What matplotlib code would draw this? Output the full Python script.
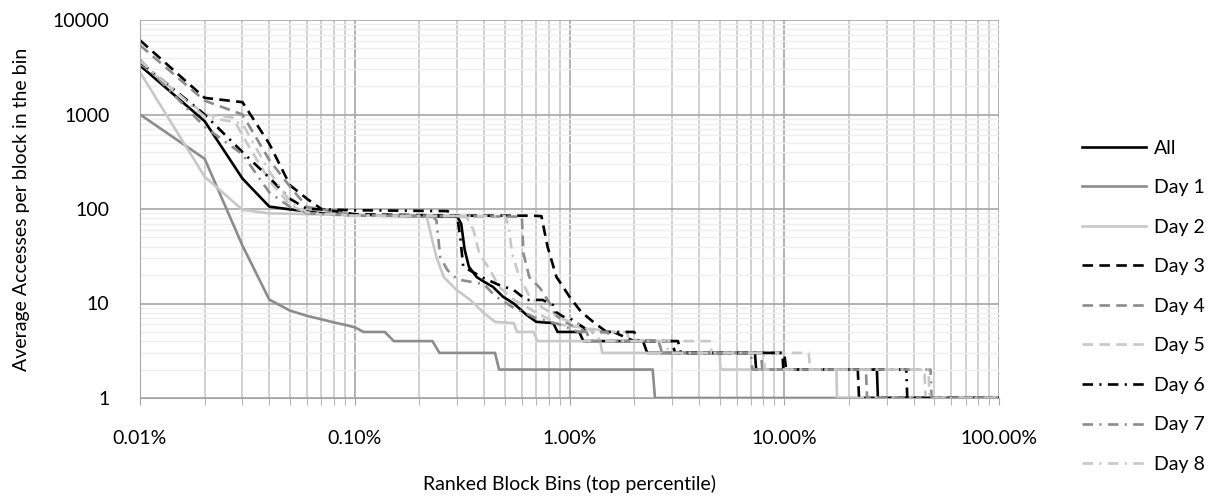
import matplotlib
matplotlib.use("Agg")
import matplotlib.pyplot as plt
import matplotlib.ticker as mticker
import numpy as np

plt.rcParams['font.family'] = ['Lato', 'DejaVu Sans']

# x values are in percent (top percentile of ranked block bins)
all_x = [0.01, 0.02, 0.03, 0.04, 0.05, 0.07, 0.1, 0.2, 0.3, 0.313, 0.325, 0.34, 0.37, 0.40, 0.44, 0.49, 0.55,
         0.63, 0.70, 0.84, 0.88, 1.11, 1.16, 2.2, 2.3, 7.3, 7.4, 27, 27.3, 100]
all_y = [3300, 850, 210, 106, 99, 90, 86, 84, 83, 70, 37, 24.5, 19, 17, 15, 11.8, 10,
         7.6, 6.4, 6.2, 5, 5, 4, 4, 3, 3, 2, 2, 1, 1]

day1_x = [0.01, 0.02, 0.03, 0.04, 0.05, 0.06, 0.07, 0.08, 0.09, 0.10, 0.11, 0.138, 0.152, 0.23, 0.248,
          0.45, 0.47, 2.44, 2.5, 100]
day1_y = [1000, 340, 41, 11, 8.4, 7.4, 6.8, 6.3, 5.95, 5.6, 5, 5, 4, 4, 3, 3, 2, 2, 1, 1]

day2_x = [0.01, 0.02, 0.03, 0.04, 0.1, 0.216, 0.228, 0.24, 0.26, 0.297, 0.345, 0.40, 0.45, 0.55, 0.57,
          0.68, 0.71, 1.39, 1.42, 5.0, 5.05, 17.5, 17.6, 100]
day2_y = [2800, 220, 98, 90, 86, 84, 50, 31, 19, 14, 10.9, 7.9, 6.4, 6.2, 5, 5, 4, 4, 3, 3, 2, 2, 1, 1]

day3_x = [0.01, 0.02, 0.03, 0.04, 0.05, 0.06, 0.07, 0.1, 0.3, 0.67, 0.74, 0.79, 0.87, 0.9, 1.0, 1.13,
          1.31, 1.49, 1.6, 2.0, 3.0, 3.1, 10, 10.2, 22, 22.3, 100]
day3_y = [6100, 1500, 1350, 490, 178, 128, 100, 88, 85, 85, 84, 40, 19, 17, 11.8, 8.2,
          6.2, 5, 5, 4, 4, 3, 3, 2, 2, 1, 1]

day4_x = [0.01, 0.02, 0.03, 0.04, 0.05, 0.06, 0.1, 0.3, 0.60, 0.61, 0.65, 0.73, 0.81, 0.86, 1.0, 1.2,
          1.25, 2.6, 2.7, 7.8, 7.9, 24, 24.3, 100]
day4_y = [5400, 1400, 1000, 330, 172, 105, 86, 84, 83, 34, 19, 14.5, 10, 7.5, 6, 5,
          4, 4, 3, 3, 2, 2, 1, 1]

day5_x = [0.01, 0.02, 0.027, 0.03, 0.04, 0.05, 0.06, 0.1, 0.33, 0.357, 0.38, 0.43, 0.47, 0.55, 0.7,
          0.9, 1.6, 1.85, 1.9, 4.5, 4.6, 13, 13.2, 45, 45.5, 100]
day5_y = [3500, 1000, 930, 600, 200, 110, 90, 85, 84, 60, 34, 22, 15, 11, 8,
          6, 5, 5, 4, 4, 3, 3, 2, 2, 1, 1]

day6_x = [0.01, 0.02, 0.03, 0.04, 0.05, 0.06, 0.1, 0.27, 0.3, 0.31, 0.32, 0.40, 0.47, 0.55, 0.63, 0.75,
          0.84, 0.86, 0.93, 1.0, 1.25, 2.0, 2.1, 3.2, 3.3, 9.8, 9.9, 37, 37.4, 100]
day6_y = [3600, 1000, 400, 215, 128, 100, 97, 95, 83, 50, 24.5, 18.5, 15.7, 13.9, 10.9, 10.9,
          9.6, 8.2, 7.3, 7, 5, 5, 4, 4, 3, 3, 2, 2, 1, 1]

day7_x = [0.01, 0.02, 0.03, 0.04, 0.05, 0.06, 0.1, 0.23, 0.24, 0.245, 0.25, 0.27, 0.30, 0.40, 0.45,
          0.55, 0.7, 0.9, 1.1, 1.5, 1.6, 2.6, 2.7, 7.0, 7.1, 48, 48.5, 100]
day7_y = [3800, 740, 380, 150, 105, 90, 85, 84, 76, 49, 31, 22.6, 18, 16, 12,
          9, 7, 6, 5, 5, 4, 4, 3, 3, 2, 2, 1, 1]

day8_x = [0.01, 0.02, 0.03, 0.04, 0.05, 0.06, 0.1, 0.50, 0.52, 0.54, 0.58, 0.65, 0.75, 0.9, 1.1, 1.3,
          1.4, 2.8, 2.9, 8.0, 8.1, 47, 47.5, 100]
day8_y = [3700, 950, 800, 250, 120, 92, 85, 84, 68, 34, 20, 12, 9, 7, 6, 5,
          4, 4, 3, 3, 2, 2, 1, 1]

series_names = ['All', 'Day 1', 'Day 2', 'Day 3', 'Day 4', 'Day 5', 'Day 6', 'Day 7', 'Day 8']
series_x = [all_x, day1_x, day2_x, day3_x, day4_x, day5_x, day6_x, day7_x, day8_x]
series_y = [all_y, day1_y, day2_y, day3_y, day4_y, day5_y, day6_y, day7_y, day8_y]

black = '#000000'
mid = '#8c8c8c'
light = '#c8c8c8'
dashed = (0, (4, 2.4))
dashdot = (0, (4, 2.4, 0.8, 2.4))
styles = [(black, '-'), (mid, '-'), (light, '-'),
          (black, dashed), (mid, dashed), (light, dashed),
          (black, dashdot), (mid, dashdot), (light, dashdot)]

fig = plt.figure(figsize=(12.15, 4.99), dpi=100)
ax = fig.add_axes([140 / 1215, 101 / 499, 859 / 1215, 378 / 499])

for name, xs, ys, (c, ls) in zip(series_names, series_x, series_y, styles):
    ax.plot(xs, ys, color=c, linestyle=ls, linewidth=1.9, label=name)

ax.set_xscale('log')
ax.set_yscale('log')
ax.set_xlim(0.01, 100)
ax.set_ylim(1, 10000)

ax.xaxis.set_major_locator(mticker.LogLocator(base=10))
ax.xaxis.set_minor_locator(mticker.LogLocator(base=10, subs=np.arange(2, 10)))
ax.yaxis.set_major_locator(mticker.LogLocator(base=10))
ax.yaxis.set_minor_locator(mticker.LogLocator(base=10, subs=np.arange(2, 10)))
ax.xaxis.set_major_formatter(mticker.FuncFormatter(lambda v, p: f'{v:.2f}%'))
ax.yaxis.set_major_formatter(mticker.FuncFormatter(lambda v, p: f'{v:.0f}'))
ax.xaxis.set_minor_formatter(mticker.NullFormatter())
ax.yaxis.set_minor_formatter(mticker.NullFormatter())

ax.grid(which='major', axis='both', color='#a6a6a6', linewidth=1.2)
ax.grid(which='minor', axis='x', color='#c8c8c8', linewidth=1.2)
ax.grid(which='minor', axis='y', color='#eeeeee', linewidth=1.0)
ax.set_axisbelow(True)

for s in ['top', 'right']:
    ax.spines[s].set_visible(False)
ax.spines['left'].set_color('#a6a6a6')
ax.spines['bottom'].set_color('#a6a6a6')
ax.tick_params(axis='x', which='both', direction='out', length=5, color='#a6a6a6', labelsize=14, pad=18)
ax.tick_params(axis='y', which='both', length=0, labelsize=14, pad=22)

ax.set_xlabel('Ranked Block Bins (top percentile)', fontsize=14, labelpad=20)
ax.set_ylabel('Average Accesses per block in the bin', fontsize=14, labelpad=16)

fig.legend(loc='upper left', bbox_to_anchor=(1064 / 1215, 1 - 122 / 499), frameon=False,
           fontsize=14, handlelength=3.3, handletextpad=0.45, labelspacing=1.16)

fig.savefig('out.png', dpi=100)
